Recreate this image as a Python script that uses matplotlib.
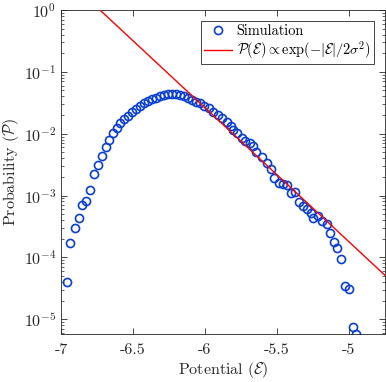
import numpy as np
import matplotlib
matplotlib.use("Agg")
import matplotlib.pyplot as plt
from matplotlib.ticker import LogLocator, NullFormatter

plt.rcParams['font.family'] = 'serif'
plt.rcParams['font.serif'] = ['cmr10', 'DejaVu Serif']
plt.rcParams['mathtext.fontset'] = 'cm'
plt.rcParams['axes.unicode_minus'] = False
plt.rcParams['axes.formatter.use_mathtext'] = True

# simulated histogram (potential, probability)
potential = [-6.960, -6.938, -6.903, -6.877, -6.852, -6.824, -6.801, -6.769,
             -6.743, -6.715, -6.690, -6.665, -6.639, -6.611, -6.587, -6.560,
             -6.533, -6.505, -6.477, -6.449, -6.422, -6.394, -6.366, -6.338,
             -6.310, -6.283, -6.255, -6.227, -6.199, -6.172, -6.144, -6.116,
             -6.088, -6.060, -6.035, -6.007, -5.970, -5.942, -5.912, -5.884,
             -5.849, -5.819, -5.803, -5.776, -5.745, -5.722, -5.688, -5.665,
             -5.646, -5.606, -5.567, -5.542, -5.519, -5.486, -5.460, -5.433,
             -5.405, -5.375, -5.345, -5.321, -5.294, -5.266, -5.248, -5.213,
             -5.190, -5.155, -5.132, -5.104, -5.081, -5.056, -5.028, -4.998,
             -4.974, -4.951]
probability = [4.02e-5, 1.70e-4, 3.00e-4, 4.31e-4, 7.0e-4, 8.1e-4, 1.22e-3,
               2.19e-3, 3.10e-3, 4.39e-3, 6.07e-3, 7.97e-3, 1.01e-2, 1.23e-2,
               1.48e-2, 1.72e-2, 1.93e-2, 2.24e-2, 2.55e-2, 2.85e-2, 3.13e-2,
               3.37e-2, 3.63e-2, 3.84e-2, 4.06e-2, 4.21e-2, 4.32e-2, 4.37e-2,
               4.32e-2, 4.21e-2, 4.06e-2, 3.84e-2, 3.56e-2, 3.31e-2, 3.09e-2,
               2.80e-2, 2.57e-2, 2.26e-2, 2.00e-2, 1.77e-2, 1.52e-2, 1.33e-2,
               1.14e-2, 1.01e-2, 8.58e-3, 7.68e-3, 6.97e-3, 6.30e-3, 5.09e-3,
               4.14e-3, 3.38e-3, 2.64e-3, 1.93e-3, 1.57e-3, 1.53e-3, 1.47e-3,
               1.11e-3, 1.15e-3, 7.73e-4, 6.73e-4, 5.96e-4, 5.13e-4, 4.26e-4,
               4.64e-4, 3.85e-4, 3.44e-4, 2.49e-4, 1.78e-4, 1.43e-4, 9.25e-5,
               3.42e-5, 3.03e-5, 7.5e-6, 5.7e-6]

# exponential tail fit: P = exp(-k * (E - E0))
fit_k = 4.99
fit_E0 = -6.729
fit_range = [-6.8, -4.7]

x_ticks = [-7, -6.5, -6, -5.5, -5]
x_labels = ['-7', '-6.5', '-6', '-5.5', '-5']

fig = plt.figure(figsize=(3.86, 3.82), dpi=100)
ax = fig.add_axes([0.158, 0.1257, 0.839, 0.848])

E_fit = np.linspace(fit_range[0], fit_range[1], 200)
ax.plot(E_fit, np.exp(-fit_k * (E_fit - fit_E0)), color='#ff0000', lw=1.0,
        label=r'$\mathcal{P}(\mathcal{E}) \propto \exp(-|\mathcal{E}|/2\sigma^2)$',
        zorder=3)
ax.plot(potential, probability, 'o', mfc='none', mec='#0a3fd6', mew=1.2,
        ms=5.8, label='Simulation', zorder=2, clip_on=True)

ax.set_yscale('log')
ax.set_xlim(-7, -4.75)
ax.set_ylim(10 ** -5.24, 1)
ax.set_xticks(x_ticks)
ax.set_xticklabels(x_labels)
ax.yaxis.set_major_locator(LogLocator(base=10, numticks=10))
ax.yaxis.set_minor_locator(LogLocator(base=10, subs=np.arange(2, 10), numticks=10))
ax.yaxis.set_minor_formatter(NullFormatter())

gray = '#262626'
for s in ax.spines.values():
    s.set_color(gray)
    s.set_linewidth(0.6)
ax.tick_params(which='both', direction='in', top=True, right=True,
               colors=gray, labelcolor=gray, labelsize=11.5)
ax.tick_params(which='major', length=4, width=0.6)
ax.tick_params(which='minor', length=2, width=0.5)
ax.tick_params(axis='x', pad=7)

ax.set_xlabel(r'Potential ($\mathcal{E}$)', fontsize=11.5, color=gray, labelpad=2)
ax.set_ylabel(r'Probability ($\mathcal{P}$)', fontsize=11.5, color=gray)
ax.yaxis.set_label_coords(-0.125, 0.5)

handles, labels = ax.get_legend_handles_labels()
leg = ax.legend(handles[::-1], labels[::-1], loc='upper right',
                fontsize=10.3, fancybox=False, framealpha=1,
                edgecolor=gray, handlelength=2.0, borderpad=0.2,
                labelspacing=0.1, handletextpad=0.3, borderaxespad=0,
                bbox_to_anchor=(0.965, 0.965))
leg.get_frame().set_linewidth(0.6)

fig.savefig('out.png', dpi=100)
